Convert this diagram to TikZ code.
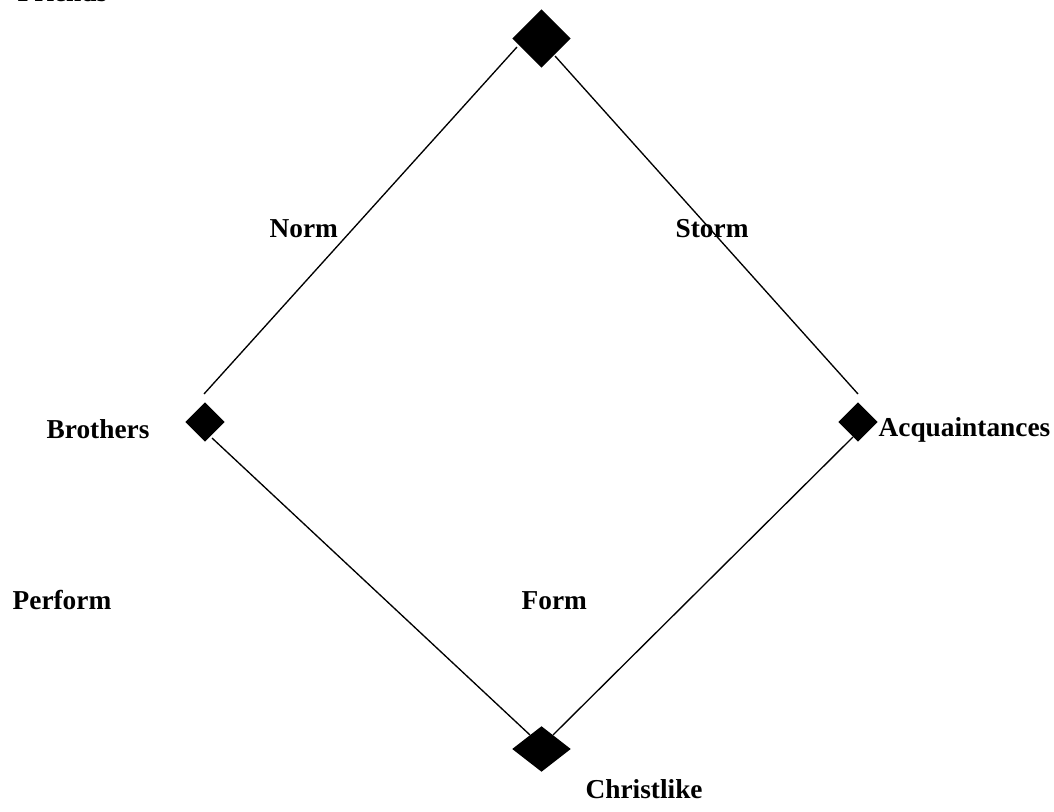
\documentclass[tikz,border=0pt]{standalone}
\usepackage{fontspec}
\setmainfont{Liberation Serif}
\usetikzlibrary{shapes.geometric}

\begin{document}
\begin{tikzpicture}[x=0.75pt, y=-0.75pt, line width=1pt,
  lbl/.style={font=\fontsize{20.5}{24}\selectfont\bfseries, inner sep=0pt, anchor=base west},
  gem/.style={diamond, fill=black, inner sep=0pt, minimum width=#1*0.75pt}]
  \useasboundingbox (0,0) rectangle (1054,812);

  % the four corners
  \node[gem=59, minimum height=44.25pt] (friends) at (541.5,38.5) {};
  \node[gem=40, minimum height=30pt] (brothers) at (205,422) {};
  \node[gem=40, minimum height=30pt] (acq) at (858,422) {};
  \node[gem=59, minimum height=34.5pt] (christ) at (541.5,749) {};

  % line ends
  \coordinate (fl) at (517,47);
  \coordinate (fr) at (555,56);
  \coordinate (bt) at (204,394);
  \coordinate (bb) at (212,438);
  \coordinate (at) at (858,394);
  \coordinate (ab) at (853,437);
  \coordinate (cl) at (530,735);
  \coordinate (cr) at (553,735);

  \draw (fl) -- (bt);
  \draw (fr) -- (at);
  \draw (bb) -- (cl);
  \draw (ab) -- (cr);

  \node[lbl] (tfriends) at (17,2) {Friends};
  \node[lbl] (tnorm) at (269,238) {Norm};
  \node[lbl] (tstorm) at (675,238) {Storm};
  \node[lbl] (tbrothers) at (46,439) {Brothers};
  \node[lbl] (tacq) at (878,437) {Acquaintances};
  \node[lbl] (tperform) at (12,610) {Perform};
  \node[lbl] (tform) at (521,610) {Form};
  \node[lbl] (tchrist) at (585,798) {Christlike};
\end{tikzpicture}
\end{document}
